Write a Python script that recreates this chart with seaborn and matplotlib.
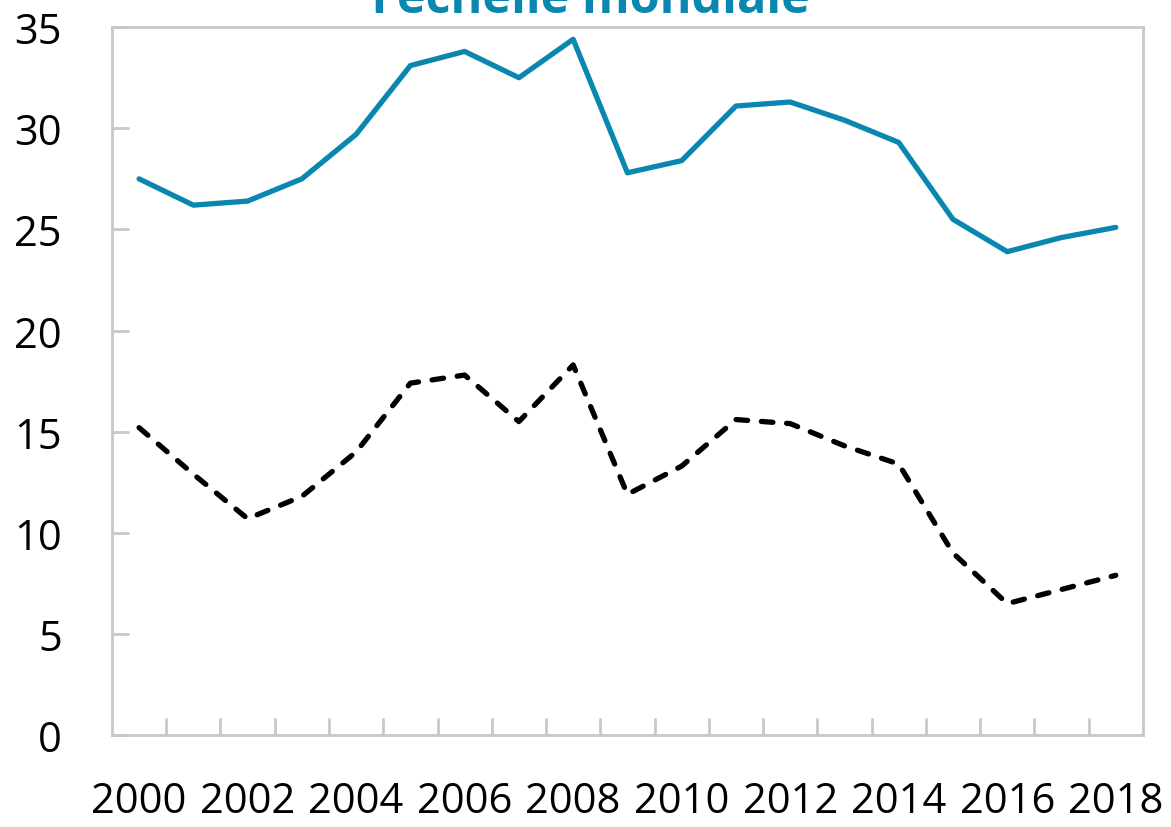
import numpy as np
import pandas as pd
import seaborn as sns
import matplotlib.pyplot as plt
from matplotlib.ticker import FixedLocator

years = list(range(2000, 2019))
blue_series = [27.5, 26.2, 26.4, 27.5, 29.7, 33.1, 33.8, 32.5, 34.4, 27.8,
               28.4, 31.1, 31.3, 30.4, 29.3, 25.5, 23.9, 24.6, 25.1]
black_series = [15.2, 12.9, 10.7, 11.8, 14.0, 17.4, 17.8, 15.5, 18.3, 11.9,
                13.3, 15.6, 15.4, 14.3, 13.4, 9.0, 6.5, 7.2, 7.9]
title_text = "l'échelle mondiale"

df = pd.DataFrame({'pos': np.arange(len(years)), 'year': years,
                   'blue': blue_series, 'black': black_series})

sns.set_theme(style='white')
plt.rcParams['font.family'] = ['Open Sans', 'DejaVu Sans']

fig, ax = plt.subplots(figsize=(11.71, 8.28), dpi=100)
fig.subplots_adjust(left=0.0956, right=0.976, top=0.966, bottom=0.111)

blue = '#0A87B0'
sns.lineplot(data=df, x='pos', y='blue', color=blue, linewidth=3.8,
             solid_capstyle='round', ax=ax)
sns.lineplot(data=df, x='pos', y='black', color='black', linewidth=3.8,
             linestyle=(0, (2.2, 2.6)), dash_capstyle='round', ax=ax)

ax.set_xlim(-0.5, len(years) - 0.5)
ax.set_ylim(0, 35)
ax.set_xlabel('')
ax.set_ylabel('')

# category axis: labels every other year, tick marks between categories
ax.set_xticks(df['pos'][::2])
ax.set_xticklabels([str(y) for y in years[::2]])
ax.xaxis.set_minor_locator(FixedLocator(np.arange(0.5, len(years) - 1, 1.0)))
ax.tick_params(axis='x', which='major', length=0, pad=32, labelsize=30,
               labelcolor='black')
ax.tick_params(axis='x', which='minor', bottom=True, direction='in',
               length=12, width=2, color='#C8C8C8')

ax.set_yticks(range(0, 36, 5))
ax.tick_params(axis='y', left=True, direction='in', length=12, width=2,
               color='#C8C8C8', pad=36, labelsize=30, labelcolor='black')

for s in ax.spines.values():
    s.set_color('#C8C8C8')
    s.set_linewidth(2)
    s.set_visible(True)

fig.text(0.505, 0.984, title_text, ha='center', va='baseline',
         fontsize=35, fontweight='bold', color=blue)

fig.savefig('out.png', dpi=100)
